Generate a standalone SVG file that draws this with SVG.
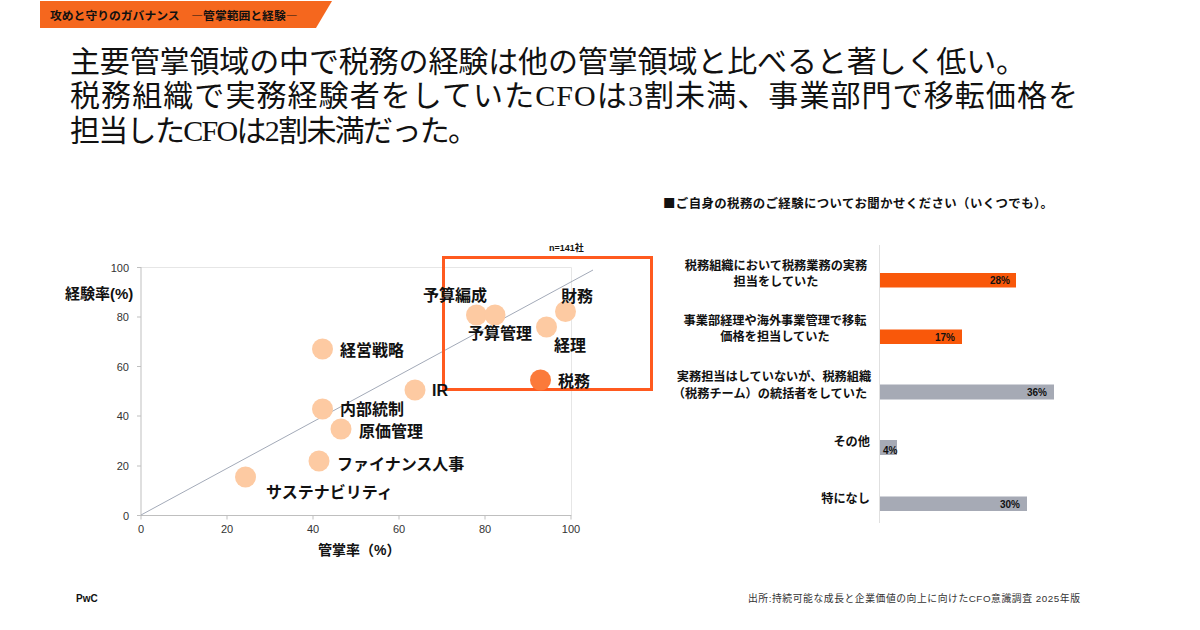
<svg xmlns="http://www.w3.org/2000/svg" width="1200" height="630" viewBox="0 0 1200 630">
<style>
.title{font-family:"Liberation Serif","Noto Sans CJK JP",serif;font-size:30px;fill:#111;}
.lbl{font-family:"Noto Sans CJK JP",sans-serif;font-weight:700;font-size:16px;fill:#111;}
.tick{font-family:"Liberation Sans","Noto Sans CJK JP",sans-serif;font-size:11px;fill:#333;}
.axt{font-family:"Liberation Sans","Noto Sans CJK JP",sans-serif;font-weight:700;font-size:15px;fill:#111;}
.cat{font-family:"Noto Sans CJK JP",sans-serif;font-weight:700;font-size:12.2px;fill:#111;}
.val{font-family:"Liberation Sans",sans-serif;font-weight:700;font-size:10px;fill:#111;}
.pt{fill:#FDCAA2;}
.grid{stroke:#E6E6E6;stroke-width:1;fill:none;}
.ax{stroke:#BFBFBF;stroke-width:1;fill:none;}
.ob{fill:#F9580A;}
.gb{fill:#A6AAB5;}
</style>
<rect width="1200" height="630" fill="#fff"/>
<g id="banner">
<polygon points="40,1 332,1 316,28 40,28" fill="#F5671E"/>
<text x="50" y="19.5" style="font-family:'Noto Sans CJK JP',sans-serif;font-weight:700;font-size:11.8px;fill:#111;">攻めと守りのガバナンス　―管掌範囲と経験―</text>
</g>
<g id="headline">
<text class="title" x="70" y="72" textLength="956" lengthAdjust="spacing">主要管掌領域の中で税務の経験は他の管掌領域と比べると著しく低い。</text>
<text class="title" x="70" y="106" textLength="1008" lengthAdjust="spacing">税務組織で実務経験者をしていたCFOは3割未満、事業部門で移転価格を</text>
<text class="title" x="70" y="141" textLength="408" lengthAdjust="spacing">担当したCFOは2割未満だった。</text>
</g>
<g id="scatter-axes">
<line class="grid" x1="141" y1="267.5" x2="571.5" y2="267.5"/>
<line class="grid" x1="571.5" y1="267.5" x2="571.5" y2="515"/>
<line class="ax" x1="141" y1="267" x2="141" y2="515.5"/>
<line class="ax" x1="137" y1="515.5" x2="571.5" y2="515.5"/>
<g class="ax">
<line x1="137" y1="267.5" x2="141" y2="267.5"/>
<line x1="137" y1="317" x2="141" y2="317"/>
<line x1="137" y1="366.5" x2="141" y2="366.5"/>
<line x1="137" y1="416" x2="141" y2="416"/>
<line x1="137" y1="466" x2="141" y2="466"/>
<line x1="141" y1="515.5" x2="141" y2="519.5"/>
<line x1="227" y1="515.5" x2="227" y2="519.5"/>
<line x1="313" y1="515.5" x2="313" y2="519.5"/>
<line x1="399" y1="515.5" x2="399" y2="519.5"/>
<line x1="485" y1="515.5" x2="485" y2="519.5"/>
<line x1="571" y1="515.5" x2="571" y2="519.5"/>
</g>
<g class="tick" text-anchor="end">
<text x="129" y="271.5">100</text>
<text x="129" y="321">80</text>
<text x="129" y="370.5">60</text>
<text x="129" y="420">40</text>
<text x="129" y="470">20</text>
<text x="129" y="519.5">0</text>
</g>
<g class="tick" text-anchor="middle">
<text x="141" y="533">0</text>
<text x="227" y="533">20</text>
<text x="313" y="533">40</text>
<text x="399" y="533">60</text>
<text x="485" y="533">80</text>
<text x="571" y="533">100</text>
</g>
<text class="axt" x="65" y="299">経験率(%)</text>
<text class="axt" x="318" y="555" style="font-size:14px">管掌率（%）</text>
<text x="549" y="251" style="font-family:'Liberation Sans','Noto Sans CJK JP',sans-serif;font-weight:700;font-size:9px;fill:#111;">n=141社</text>
</g>
<g id="connectors">
<line x1="141" y1="515" x2="593" y2="270" stroke="#A3AAB8" stroke-width="1"/>
</g>
<g id="highlight-box">
<rect x="443.5" y="257.5" width="208" height="132" fill="none" stroke="#FF5A1F" stroke-width="3"/>
</g>
<g id="pt-keiei"><circle class="pt" cx="322.5" cy="349" r="10.5"/><text class="lbl" x="340" y="356">経営戦略</text></g>
<g id="pt-naibu"><circle class="pt" cx="322.5" cy="409" r="10.5"/><text class="lbl" x="340" y="415">内部統制</text></g>
<g id="pt-genka"><circle class="pt" cx="341" cy="429" r="10.5"/><text class="lbl" x="359" y="437">原価管理</text></g>
<g id="pt-finance"><circle class="pt" cx="319" cy="461" r="10.5"/><text class="lbl" x="337" y="470">ファイナンス人事</text></g>
<g id="pt-sustain"><circle class="pt" cx="245.5" cy="477" r="10.5"/><text class="lbl" x="266" y="498">サステナビリティ</text></g>
<g id="pt-ir"><circle class="pt" cx="415" cy="390" r="10.5"/><text class="lbl" x="432" y="396" style="font-family:'Liberation Sans',sans-serif">IR</text></g>
<g id="pt-yosan-hensei"><circle class="pt" cx="476.5" cy="315" r="10.5"/><text class="lbl" x="423" y="301">予算編成</text></g>
<g id="pt-yosan-kanri"><circle class="pt" cx="495" cy="315" r="10.5"/><text class="lbl" x="468" y="339">予算管理</text></g>
<g id="pt-keiri"><circle class="pt" cx="546.5" cy="327" r="10.5"/><text class="lbl" x="554" y="351">経理</text></g>
<g id="pt-zaimu"><circle class="pt" cx="565.5" cy="311.5" r="10.5"/><text class="lbl" x="561" y="302">財務</text></g>
<g id="pt-zeimu"><circle cx="540.5" cy="380" r="10.5" fill="#FB7A3A"/><text class="lbl" x="558" y="387">税務</text></g>
<g id="bar-chart">
<text x="663" y="208" textLength="390" lengthAdjust="spacing" style="font-family:'Noto Sans CJK JP',sans-serif;font-weight:700;font-size:12.4px;fill:#111;">■ご自身の税務のご経験についてお聞かせください（いくつでも）。</text>
<line x1="879.5" y1="245" x2="879.5" y2="523" stroke="#E0E0E0" stroke-width="1"/>
<g id="bar1">
<text class="cat" x="776" y="269.5" text-anchor="middle">税務組織において税務業務の実務</text>
<text class="cat" x="776" y="285.5" text-anchor="middle">担当をしていた</text>
<rect class="ob" x="880" y="273" width="136" height="14.5"/>
<text class="val" x="1010" y="284" text-anchor="end">28%</text>
</g>
<g id="bar2">
<text class="cat" x="775" y="324.5" text-anchor="middle">事業部経理や海外事業管理で移転</text>
<text class="cat" x="775" y="341" text-anchor="middle">価格を担当していた</text>
<rect class="ob" x="880" y="329.5" width="82" height="14.5"/>
<text class="val" x="955" y="341" text-anchor="end">17%</text>
</g>
<g id="bar3">
<text class="cat" x="774" y="380.5" text-anchor="middle">実務担当はしていないが、税務組織</text>
<text class="cat" x="770" y="398" text-anchor="middle">（税務チーム）の統括者をしていた</text>
<rect class="gb" x="880" y="384.5" width="174" height="15"/>
<text class="val" x="1047" y="396" text-anchor="end">36%</text>
</g>
<g id="bar4">
<text class="cat" x="870" y="446" text-anchor="end">その他</text>
<rect class="gb" x="880" y="440" width="17" height="15"/>
<text class="val" x="883" y="453.5">4%</text>
</g>
<g id="bar5">
<text class="cat" x="870" y="503" text-anchor="end">特になし</text>
<rect class="gb" x="880" y="496.5" width="147" height="14.5"/>
<text class="val" x="1020" y="508" text-anchor="end">30%</text>
</g>
</g>
<g id="footer">
<text x="76" y="602" style="font-family:'Liberation Sans',sans-serif;font-weight:700;font-size:10px;fill:#111;">PwC</text>
<text x="748" y="602" textLength="332" lengthAdjust="spacing" style="font-family:'Liberation Sans','Noto Sans CJK JP',sans-serif;font-size:9.8px;fill:#333;">出所:持続可能な成長と企業価値の向上に向けたCFO意識調査  2025年版</text>
</g>
</svg>
